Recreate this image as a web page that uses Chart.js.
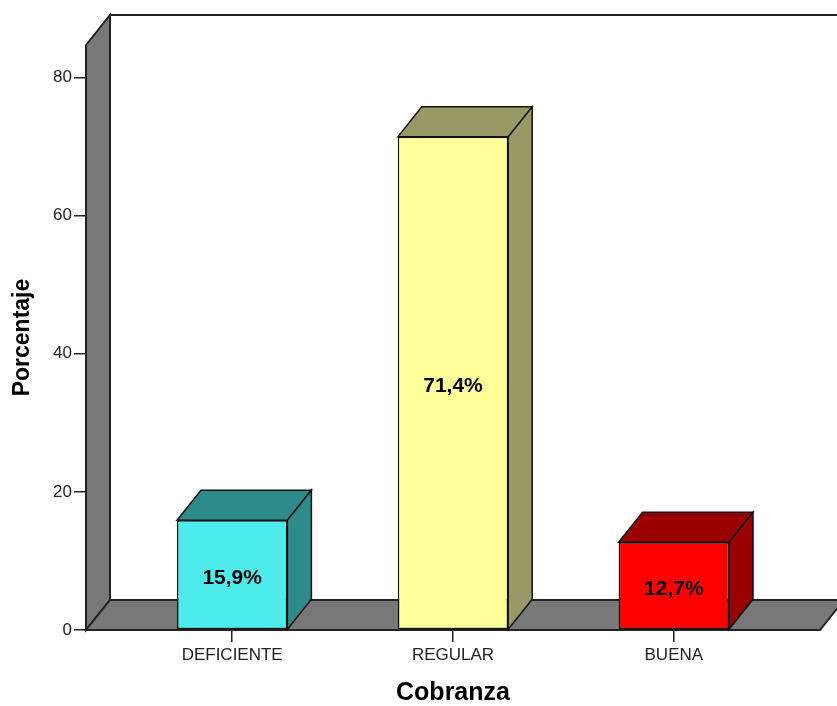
<!DOCTYPE html>
<html>
<head>
<meta charset="utf-8">
<title>Cobranza</title>
<style>
  html, body { margin: 0; padding: 0; background: #ffffff; }
  #wrap { width: 837px; height: 706px; }
</style>
<script src="https://cdn.jsdelivr.net/npm/chart.js@4/dist/chart.umd.min.js"></script>
</head>
<body>
<div id="wrap"><canvas id="chart" width="837" height="706"></canvas></div>
<script>
// Categories and percentage values
const categories = ['DEFICIENTE', 'REGULAR', 'BUENA'];
const percentages = [15.9, 71.4, 12.7];
const yTickValues = [0, 20, 40, 60, 80];

// Face colours for each bar (front face, top/side face)
const frontColors = ['#4DEBEB', '#FFFF99', '#FF0000'];
const shadeColors = ['#2E8B8B', '#999966', '#990000'];

// Depth of the pseudo-3D extrusion (pixels)
const DEPTH_X = 24;
const DEPTH_Y = -30;

const fmtPct = v => v.toFixed(1).replace('.', ',') + '%';
const FONT = '"Liberation Sans", Arial, Helvetica, sans-serif';

// Draws the grey walls / floor behind the bars and the top/side faces of each bar
const box3d = {
  id: 'box3d',
  beforeDatasetsDraw(chart) {
    const { ctx, chartArea: a, scales: { y } } = chart;
    const y0 = y.getPixelForValue(0);
    ctx.save();
    ctx.lineJoin = 'miter';
    ctx.strokeStyle = '#222222';
    ctx.lineWidth = 2;
    ctx.fillStyle = '#787878';
    // left wall
    ctx.beginPath();
    ctx.moveTo(a.left, a.top);
    ctx.lineTo(a.left + DEPTH_X, a.top + DEPTH_Y);
    ctx.lineTo(a.left + DEPTH_X, y0 + DEPTH_Y);
    ctx.lineTo(a.left, y0);
    ctx.closePath();
    ctx.fill();
    ctx.stroke();
    // floor
    ctx.beginPath();
    ctx.moveTo(a.left, y0);
    ctx.lineTo(a.left + DEPTH_X, y0 + DEPTH_Y);
    ctx.lineTo(a.right + DEPTH_X, y0 + DEPTH_Y);
    ctx.lineTo(a.right, y0);
    ctx.closePath();
    ctx.fill();
    ctx.stroke();
    // top edge of back wall
    ctx.beginPath();
    ctx.moveTo(a.left + DEPTH_X, a.top + DEPTH_Y);
    ctx.lineTo(a.right + DEPTH_X, a.top + DEPTH_Y);
    ctx.stroke();
    ctx.restore();
  },
  afterDatasetsDraw(chart) {
    const { ctx } = chart;
    const meta = chart.getDatasetMeta(0);
    ctx.save();
    ctx.lineJoin = 'miter';
    ctx.strokeStyle = '#111111';
    ctx.lineWidth = 1.5;
    meta.data.forEach((bar, i) => {
      const { x, y, base, width } = bar.getProps(['x', 'y', 'base', 'width'], true);
      const l = x - width / 2;
      const r = x + width / 2;
      ctx.fillStyle = shadeColors[i];
      // top face
      ctx.beginPath();
      ctx.moveTo(l, y);
      ctx.lineTo(l + DEPTH_X, y + DEPTH_Y);
      ctx.lineTo(r + DEPTH_X, y + DEPTH_Y);
      ctx.lineTo(r, y);
      ctx.closePath();
      ctx.fill();
      ctx.stroke();
      // side face
      ctx.beginPath();
      ctx.moveTo(r, y);
      ctx.lineTo(r + DEPTH_X, y + DEPTH_Y);
      ctx.lineTo(r + DEPTH_X, base + DEPTH_Y);
      ctx.lineTo(r, base);
      ctx.closePath();
      ctx.fill();
      ctx.stroke();
      // value label
      ctx.fillStyle = '#000000';
      ctx.font = 'bold 21px ' + FONT;
      ctx.textAlign = 'center';
      ctx.textBaseline = 'middle';
      ctx.fillText(fmtPct(percentages[i]), x, (y + base) / 2 + 3);
    });
    ctx.restore();
  }
};

new Chart(document.getElementById('chart'), {
  type: 'bar',
  data: {
    datasets: [{
      data: percentages.map((v, i) => ({ x: i, y: v })),
      backgroundColor: frontColors,
      borderColor: '#111111',
      borderWidth: 1.5,
      borderSkipped: false,
      barPercentage: 0.5,
      categoryPercentage: 1.0
    }]
  },
  options: {
    responsive: false,
    animation: false,
    devicePixelRatio: 1,
    layout: { padding: { top: 45, right: 17, left: 0, bottom: 0 } },
    plugins: {
      legend: { display: false },
      tooltip: { enabled: false }
    },
    scales: {
      x: {
        type: 'linear',
        offset: false,
        min: -0.662,
        max: 2.662,
        afterBuildTicks: s => { s.ticks = categories.map((_, i) => ({ value: i })); },
        afterFit: s => { s.height = 76; },
        border: { display: false },
        grid: { offset: false, drawOnChartArea: false, drawTicks: true, tickLength: 12, color: '#222222', lineWidth: 1.5 },
        ticks: {
          autoSkip: false,
          maxRotation: 0,
          padding: 3,
          color: '#222222',
          font: { family: FONT, size: 17 },
          callback: v => categories[v]
        },
        title: {
          display: true,
          text: 'Cobranza',
          color: '#000000',
          padding: { top: 0, bottom: 0 },
          font: { family: FONT, size: 25, weight: 'bold', lineHeight: 1 }
        }
      },
      y: {
        min: 0,
        max: 84.7,
        afterBuildTicks: s => { s.ticks = yTickValues.map(v => ({ value: v })); },
        afterFit: s => { s.width = 86; },
        border: { display: false },
        grid: { drawOnChartArea: false, drawTicks: true, tickLength: 12, color: '#222222', lineWidth: 1.5 },
        ticks: {
          padding: 2,
          color: '#222222',
          font: { family: FONT, size: 17 }
        },
        title: {
          display: true,
          text: 'Porcentaje',
          color: '#000000',
          padding: { top: 11, bottom: 0 },
          font: { family: FONT, size: 23, weight: 'bold', lineHeight: 1 }
        }
      }
    }
  },
  plugins: [box3d]
});
</script>
</body>
</html>
